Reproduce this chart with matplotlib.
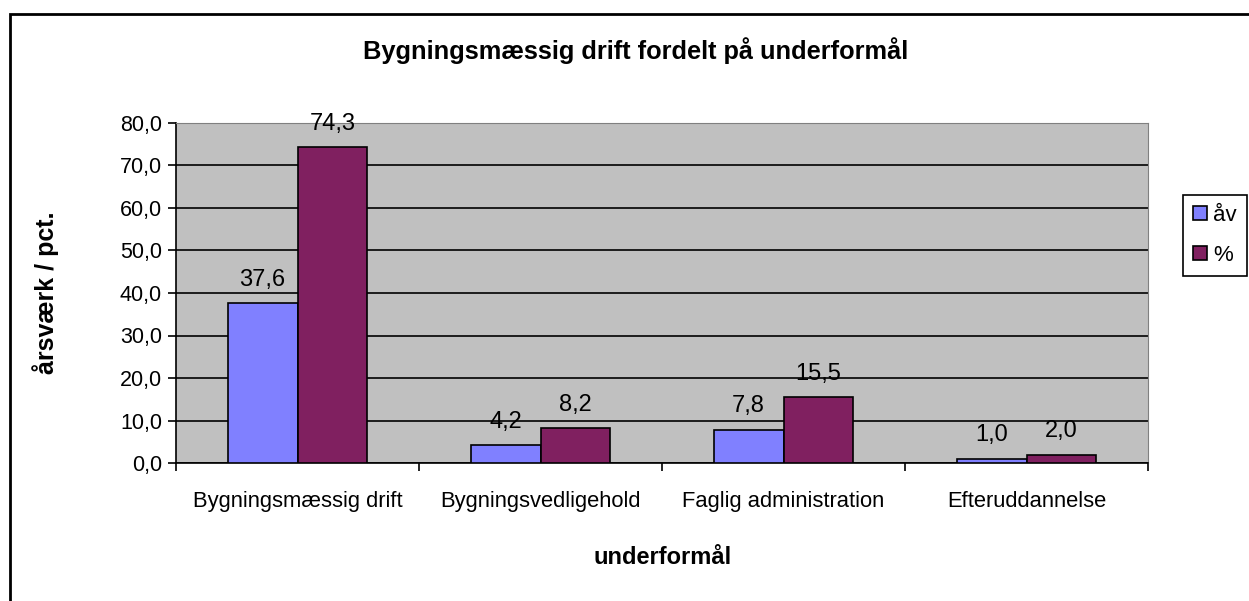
import matplotlib.pyplot as plt
import matplotlib.patches as mpatches
import numpy as np

plt.rcParams['font.family'] = ['Liberation Sans', 'DejaVu Sans']

categories = ['Bygningsmæssig drift', 'Bygningsvedligehold', 'Faglig administration', 'Efteruddannelse']
aarsvaerk = [37.6, 4.2, 7.8, 1.0]
procent = [74.3, 8.2, 15.5, 2.0]
series_names = ['åv', '%']
yticks = [0, 10, 20, 30, 40, 50, 60, 70, 80]

blue = '#8080FF'
maroon = '#802060'

fig = plt.figure(figsize=(12.49, 6.01), dpi=100)
ax = fig.add_axes([176 / 1249, 1 - 463 / 601, (1148 - 176) / 1249, (463 - 123) / 601])

# outer chart frame (right and bottom edges fall outside the picture)
frame = mpatches.Rectangle((10 / 1249, -0.05), 1.1, 1 - 14 / 601 + 0.05,
                           transform=fig.transFigure, fill=False,
                           edgecolor='black', linewidth=2, clip_on=False)
fig.patches.append(frame)

x = np.arange(len(categories))
w = 0.288
b1 = ax.bar(x - w / 2, aarsvaerk, w, color=blue, edgecolor='black', linewidth=1.2,
            label=series_names[0], zorder=3)
b2 = ax.bar(x + w / 2, procent, w, color=maroon, edgecolor='black', linewidth=1.2,
            label=series_names[1], zorder=3)

for bars, vals in ((b1, aarsvaerk), (b2, procent)):
    for r, v in zip(bars, vals):
        ax.annotate(f'{v:.1f}'.replace('.', ','), (r.get_x() + r.get_width() / 2, v),
                    xytext=(0, 9), textcoords='offset points', ha='center', va='bottom',
                    fontsize=17, zorder=4)

ax.set_facecolor('#C0C0C0')
ax.set_xlim(-0.5, len(categories) - 0.5)
ax.set_ylim(0, 80)
ax.set_yticks(yticks)
ax.set_yticklabels([f'{t:.1f}'.replace('.', ',') for t in yticks], fontsize=15.5)
ax.yaxis.grid(True, color='black', linewidth=1.2, zorder=1)
ax.set_axisbelow(True)

ax.set_xticks(x)
ax.set_xticklabels(categories, fontsize=15.8)
ax.set_xticks(np.arange(len(categories) + 1) - 0.5, minor=True)
ax.tick_params(axis='x', which='major', length=0, pad=20)
ax.tick_params(axis='x', which='minor', length=6, width=1.2, direction='out')
ax.tick_params(axis='y', length=6, width=1.2, direction='out', pad=4)

ax.spines['left'].set_linewidth(1.2)
ax.spines['bottom'].set_linewidth(1.2)
ax.spines['top'].set_color('#808080')
ax.spines['right'].set_color('#808080')

fig.text(663 / 1249, 1 - 558 / 601, 'underformål', ha='center', va='center',
         fontsize=17, fontweight='bold')
fig.text(46 / 1249, 1 - 293 / 601, 'årsværk / pct.', ha='center', va='center',
         rotation=90, fontsize=18, fontweight='bold')
fig.text(636 / 1249, 1 - 51 / 601, 'Bygningsmæssig drift fordelt på underformål',
         ha='center', va='center', fontsize=18.3, fontweight='bold')

leg = fig.legend(handles=[b1, b2], labels=series_names, loc='upper right',
                 bbox_to_anchor=(1247 / 1249, 1 - 195 / 601), fontsize=16,
                 frameon=True, fancybox=False, edgecolor='black', framealpha=1,
                 handlelength=0.62, handleheight=0.62, handletextpad=0.3,
                 borderpad=0.45, labelspacing=0.85, borderaxespad=0)
leg.get_frame().set_linewidth(1.2)

fig.savefig('out.png', dpi=100)
